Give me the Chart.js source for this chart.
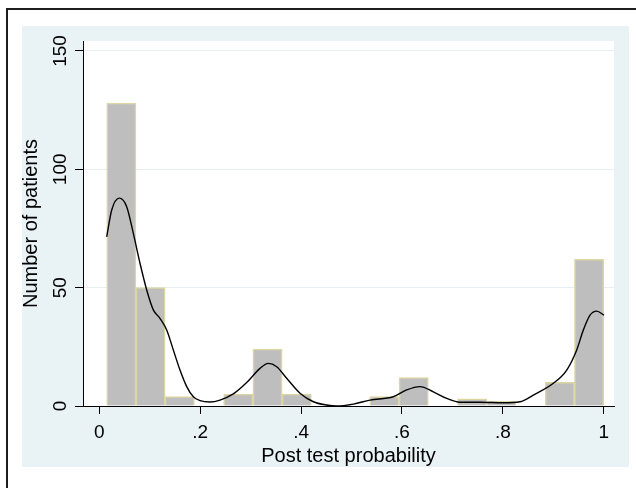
<!DOCTYPE html>
<html>
<head>
<meta charset="utf-8">
<script src="https://cdn.jsdelivr.net/npm/chart.js@4"></script>
<style>
    body { margin: 0; background: #fff; }
    #frame {
        position: absolute; left: 6px; top: 8px; width: 640px; height: 490px;
        border-left: 2px solid #1e1e1e; border-top: 2px solid #1e1e1e;
    }
    #box {
        position: absolute; left: 22px; top: 26px; width: 607px; height: 441px;
        background: #e9f2f5;
    }
</style>
</head>
<body>
<div id="frame"></div>
<div id="box"><canvas id="c"></canvas></div>
<script>
// histogram bins (centres) and counts
const binCenters = [0.0437, 0.1016, 0.1596, 0.2755, 0.3335, 0.3914, 0.5653, 0.6233, 0.7392, 0.7972, 0.9131, 0.9710];
const binCounts  = [128, 50, 4, 5, 24, 5, 4, 12, 3, 2, 10, 62];

// kernel density curve, scaled to counts
const kdX = [0.0147, 0.0246, 0.0397, 0.0543, 0.0674, 0.0807, 0.0940, 0.1071, 0.1203, 0.1336, 0.1467, 0.1600,
             0.1733, 0.1864, 0.1996, 0.2195, 0.2393, 0.2657, 0.2922, 0.3186, 0.3351, 0.3517, 0.3715, 0.3979,
             0.4243, 0.4508, 0.4707, 0.5036, 0.5367, 0.5829, 0.6094, 0.6358, 0.6622, 0.6887, 0.7151, 0.7547,
             0.8010, 0.8341, 0.8604, 0.9001, 0.9267, 0.9465, 0.9596, 0.9729, 0.9861, 1.0006];
const kdY = [71.5, 82.8, 87.8, 84.2, 73.0, 60.3, 49.0, 40.6, 37.0, 32.1, 23.7, 15.2,
             8.2, 3.9, 2.3, 1.7, 2.5, 5.1, 9.9, 15.9, 18.0, 16.6, 11.7, 5.4,
             1.8, 0.4, 0.0, 0.8, 2.5, 3.9, 6.8, 8.2, 6.0, 3.2, 1.6, 1.6,
             1.4, 1.8, 4.6, 9.6, 15.2, 23.7, 32.1, 38.4, 40.1, 38.4];

const xTicks = [0, 0.2, 0.4, 0.6, 0.8, 1];
const xTickLabels = ['0', '.2', '.4', '.6', '.8', '1'];
const yTicks = [0, 50, 100, 150];

const FONT = 'Liberation Sans, Arial, Helvetica, sans-serif';

// white plot region
const plotBg = {
    id: 'plotBg',
    beforeDraw(chart) {
        const a = chart.chartArea;
        const ctx = chart.ctx;
        ctx.save();
        ctx.fillStyle = '#ffffff';
        ctx.fillRect(a.left, a.top, a.right - a.left, a.bottom - a.top);
        ctx.restore();
    }
};

new Chart(document.getElementById('c'), {
    type: 'bar',
    data: {
        datasets: [{
            type: 'line',
            data: kdX.map((x, i) => ({ x: x, y: kdY[i] })),
            borderColor: '#000',
            borderWidth: 1.4,
            pointRadius: 0,
            fill: false,
            cubicInterpolationMode: 'monotone',
            order: 1
        }, {
            data: binCenters.map((x, i) => ({ x: x, y: binCounts[i] })),
            backgroundColor: '#bebebe',
            borderColor: '#dcd6a2',
            borderWidth: 1.5,
            barPercentage: 1,
            categoryPercentage: 1,
            order: 2
        }]
    },
    plugins: [plotBg],
    options: {
        responsive: true,
        maintainAspectRatio: false,
        animation: false,
        layout: { padding: { top: 15, right: 15, left: 0, bottom: 0 } },
        plugins: { legend: { display: false }, tooltip: { enabled: false } },
        scales: {
            x: {
                type: 'linear',
                offset: false,
                min: -0.0323,
                max: 1.0204,
                afterBuildTicks: s => { s.ticks = xTicks.map(v => ({ value: v })); },
                afterFit: s => { s.height = 61; },
                grid: { offset: false, drawOnChartArea: false, tickLength: 8, tickColor: '#000' },
                border: { color: '#000', width: 1 },
                ticks: {
                    color: '#000',
                    font: { family: FONT, size: 19 },
                    padding: 7,
                    maxRotation: 0,
                    callback: (v) => xTickLabels[xTicks.indexOf(v)]
                },
                title: {
                    display: true,
                    text: 'Post test probability',
                    color: '#000',
                    font: { family: FONT, size: 20, lineHeight: 1 },
                    padding: { top: 0, bottom: 1 }
                }
            },
            y: {
                min: 0,
                max: 154.2,
                afterBuildTicks: s => { s.ticks = yTicks.map(v => ({ value: v })); },
                afterFit: s => { s.width = 61; },
                grid: { color: '#e6eff2', lineWidth: 1, tickLength: 8, tickColor: '#000' },
                border: { color: '#000', width: 1 },
                ticks: {
                    color: '#000',
                    font: { family: FONT, size: 19 },
                    minRotation: 90,
                    maxRotation: 90,
                    crossAlign: 'center',
                    padding: -2
                },
                title: {
                    display: true,
                    text: 'Number of patients',
                    color: '#000',
                    font: { family: FONT, size: 20, lineHeight: 1 },
                    padding: { top: -1, bottom: 0 }
                }
            }
        }
    }
});
</script>
</body>
</html>
